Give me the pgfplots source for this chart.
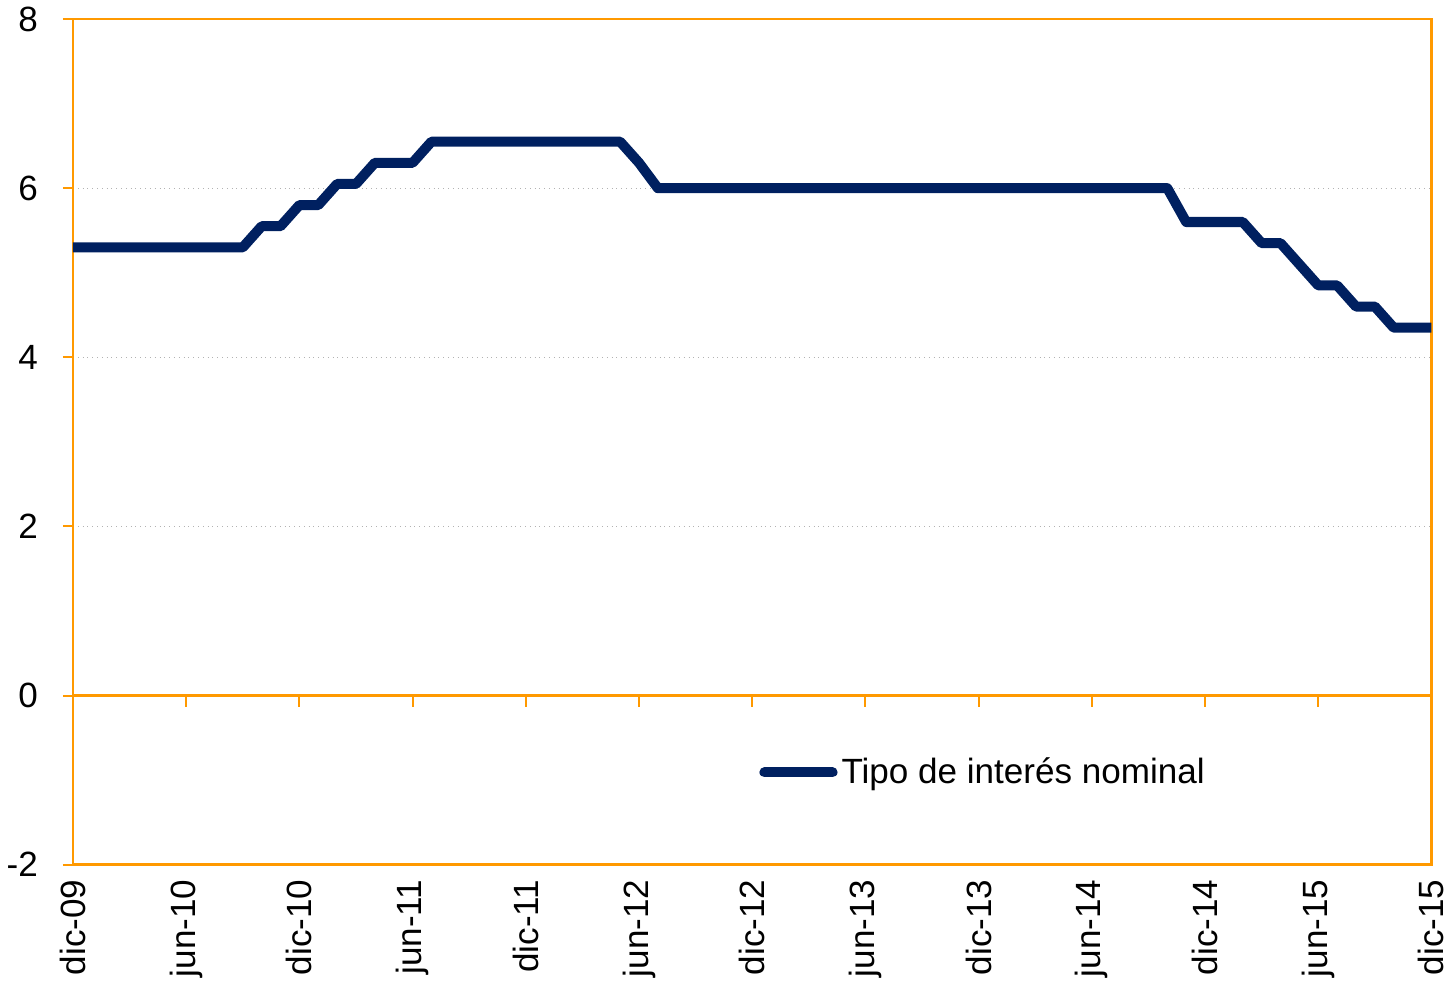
\documentclass[border=0pt]{standalone}
\usepackage{fontspec}
\setmainfont{Liberation Sans}
\usepackage{pgfplots}
\pgfplotsset{compat=1.18}
\definecolor{navy}{HTML}{002060}
\definecolor{amber}{HTML}{FF9900}

\begin{document}
\begin{tikzpicture}
\begin{axis}[
  scale only axis,
  width=678pt, height=422pt,
  xmin=0, xmax=72, ymin=-2, ymax=8,
  axis line style={amber, line width=1.2pt},
  ytick={-2,0,2,4,6,8},
  xtick={0,6,...,72},
  xticklabels={dic-09,jun-10,dic-10,jun-11,dic-11,jun-12,dic-12,jun-13,dic-13,jun-14,dic-14,jun-15,dic-15},
  xtick pos=bottom, ytick pos=left,
  tick align=outside,
  major tick length=5pt,
  major tick style={amber, line width=1pt},
  x tick style={draw=none},
  ymajorgrids, grid style={gray!60, dotted, line width=0.6pt},
  /pgf/number format/assume math mode=true,
  tick label style={font=\fontsize{17.5}{21}\selectfont},
  xticklabel style={rotate=90, anchor=east, xshift=1pt},
  yticklabel style={xshift=-9pt},
  legend style={at={(0.505,0.109)}, anchor=west, draw=none, fill=none,
    font=\fontsize{17.5}{21}\selectfont, inner sep=0pt},
  legend cell align=left,
  legend image code/.code={\draw[#1, line cap=round] (0pt,0pt) -- (34pt,0pt);},
]
\draw[amber, line width=1.2pt] (axis cs:0,0) -- (axis cs:72,0);
\pgfplotsinvokeforeach{6,12,...,66}{
  \draw[amber, line width=1pt] (axis cs:#1,0) -- ++(0pt,-5.5pt);
}
\addplot[navy, line width=5pt, line join=round] coordinates {
(0,5.3)(1,5.3)(2,5.3)(3,5.3)(4,5.3)(5,5.3)(6,5.3)(7,5.3)(8,5.3)(9,5.3)
(10,5.55)(11,5.55)(12,5.8)(13,5.8)(14,6.05)(15,6.05)
(16,6.3)(17,6.3)(18,6.3)
(19,6.55)(20,6.55)(21,6.55)(22,6.55)(23,6.55)(24,6.55)(25,6.55)(26,6.55)(27,6.55)(28,6.55)(29,6.55)
(30,6.3)
(31,6)(32,6)(33,6)(34,6)(35,6)(36,6)(37,6)(38,6)(39,6)(40,6)(41,6)(42,6)(43,6)(44,6)
(45,6)(46,6)(47,6)(48,6)(49,6)(50,6)(51,6)(52,6)(53,6)(54,6)(55,6)(56,6)(57,6)(58,6)
(59,5.6)(60,5.6)(61,5.6)(62,5.6)
(63,5.35)(64,5.35)(65,5.1)(66,4.85)(67,4.85)(68,4.6)(69,4.6)
(70,4.35)(71,4.35)(72,4.35)
};
\addlegendentry{Tipo de interés nominal}
\end{axis}
\end{tikzpicture}
\end{document}
